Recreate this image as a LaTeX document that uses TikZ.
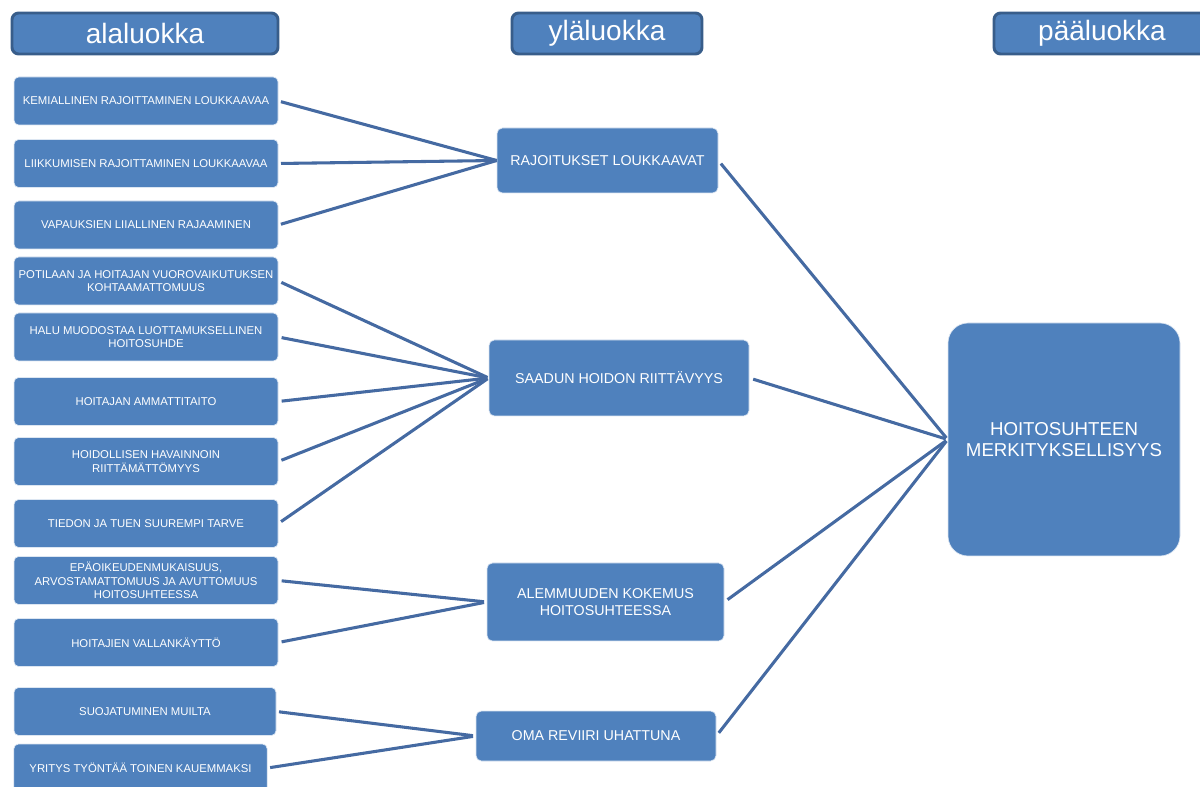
\documentclass[tikz,border=0pt]{standalone}
\usepackage{fontspec}
\setmainfont{Liberation Sans}
\definecolor{boxfill}{RGB}{79,129,189}
\definecolor{hdrborder}{RGB}{56,93,138}
\definecolor{linecol}{RGB}{69,106,162}
\begin{document}
\begin{tikzpicture}[x=0.75pt,y=-0.75pt,
  hdr/.style={draw=hdrborder, line width=2.2pt, fill=boxfill, rounded corners=5pt, text=white,
    inner sep=0pt, font=\fontsize{21}{24}\selectfont},
  sbox/.style={draw=white!80!boxfill, line width=0.5pt, fill=boxfill, rounded corners=3.5pt, text=white,
    inner sep=0pt, align=center, minimum width=198pt, minimum height=36pt,
    font=\fontsize{8.5}{10}\selectfont},
  mbox/.style={draw=white!80!boxfill, line width=0.5pt, fill=boxfill, rounded corners=4pt, text=white,
    inner sep=0pt, align=center, font=\fontsize{10.7}{12.5}\selectfont},
  bigbox/.style={draw=white!80!boxfill, line width=0.5pt, fill=boxfill, rounded corners=15pt, text=white,
    inner sep=0pt, align=center, font=\fontsize{14}{16}\selectfont},
  conn/.style={draw=linecol, line width=2.3pt}
]
\useasboundingbox (0,0) rectangle (1200,787);
\begin{scope}
\clip (0,0) rectangle (1200,787);
% headers
\node[hdr, minimum width=199.5pt, minimum height=30.75pt] (h1) at (145,33.5) {alaluokka};
\node[hdr, minimum width=142.5pt, minimum height=30.75pt] (h2) at (607,33.5) {yläluokka};
\node[hdr, minimum width=162pt, minimum height=30.75pt] (h3) at (1102,33.5) {pääluokka};
% left boxes
\node[sbox] (l1) at (146,101) {KEMIALLINEN RAJOITTAMINEN LOUKKAAVAA};
\node[sbox] (l2) at (146,163.5) {LIIKKUMISEN RAJOITTAMINEN LOUKKAAVAA};
\node[sbox] (l3) at (146,225) {VAPAUKSIEN LIIALLINEN RAJAAMINEN};
\node[sbox] (l4) at (146,281) {POTILAAN JA HOITAJAN VUOROVAIKUTUKSEN\\KOHTAAMATTOMUUS};
\node[sbox] (l5) at (146,337) {HALU MUODOSTAA LUOTTAMUKSELLINEN\\HOITOSUHDE};
\node[sbox] (l6) at (146,401.5) {HOITAJAN AMMATTITAITO};
\node[sbox] (l7) at (146,461.5) {HOIDOLLISEN HAVAINNOIN\\RIITTÄMÄTTÖMYYS};
\node[sbox] (l8) at (146,523.5) {TIEDON JA TUEN SUUREMPI TARVE};
\node[sbox] (l9) at (146,580.5) {EPÄOIKEUDENMUKAISUUS,\\ARVOSTAMATTOMUUS JA AVUTTOMUUS\\HOITOSUHTEESSA};
\node[sbox] (l10) at (146,642.5) {HOITAJIEN VALLANKÄYTTÖ};
\node[sbox, minimum width=196.5pt] (l11) at (145,711.5) {SUOJATUMINEN MUILTA};
\node[sbox, minimum width=190pt] (l12) at (140.5,768) {YRITYS TYÖNTÄÄ TOINEN KAUEMMAKSI};
% middle boxes
\node[mbox, minimum width=165.75pt, minimum height=48.75pt] (m1) at (607.5,160.5) {RAJOITUKSET LOUKKAAVAT};
\node[mbox, minimum width=195pt, minimum height=57pt] (m2) at (619,378) {SAADUN HOIDON RIITTÄVYYS};
\node[mbox, minimum width=177.75pt, minimum height=58.5pt] (m3) at (605.5,602) {ALEMMUUDEN KOKEMUS\\HOITOSUHTEESSA};
\node[mbox, minimum width=180pt, minimum height=37.5pt] (m4) at (596,736) {OMA REVIIRI UHATTUNA};
% right box
\node[bigbox, minimum width=174pt, minimum height=174.75pt] (r) at (1064,439.5) {HOITOSUHTEEN\\MERKITYKSELLISYYS};
% connectors
\foreach \s in {l1,l2,l3} \draw[conn, shorten <=2pt] (\s.east) -- (m1.west);
\foreach \s in {l4,l5,l6,l7,l8} \draw[conn, shorten <=2.5pt, shorten >=1pt] (\s.east) -- (m2.west);
\foreach \s in {l9,l10} \draw[conn, shorten <=2.5pt, shorten >=2pt] (\s.east) -- (m3.west);
\foreach \s in {l11,l12} \draw[conn, shorten <=2pt, shorten >=2pt] (\s.east) -- (m4.west);
\foreach \s in {m1,m2,m3,m4} \draw[conn, shorten <=3pt, shorten >=1.5pt] (\s.east) -- (r.west);
\end{scope}
\end{tikzpicture}
\end{document}
